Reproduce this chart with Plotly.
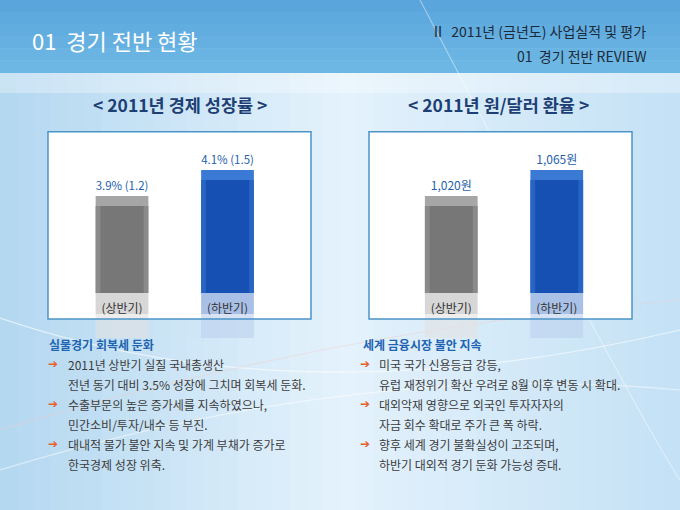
import plotly.graph_objects as go

W, H = 680, 510

# ---------------- data ----------------
page_title = "01  경기 전반 현황"
header_lines = ["Ⅱ  2011년 (금년도) 사업실적 및 평가", "01  경기 전반 REVIEW"]

periods = ["(상반기)", "(하반기)"]

growth_title = "< 2011년 경제 성장률 >"
growth_rate = [3.9, 4.1]
growth_paren = [1.2, 1.5]

fx_title = "< 2011년 원/달러 환율 >"
fx_rate = [1020, 1065]

left_heading = "실물경기 회복세 둔화"
left_bullets = [
    ["2011년 상반기 실질 국내총생산", "전년 동기 대비 3.5% 성장에 그치며 회복세 둔화."],
    ["수출부문의 높은 증가세를 지속하였으나,", "민간소비/투자/내수 등 부진."],
    ["대내적 물가 불안 지속 및 가계 부채가 증가로", "한국경제 성장 위축."],
]
right_heading = "세계 금융시장 불안 지속"
right_bullets = [
    ["미국 국가 신용등급 강등,", "유럽 재정위기 확산 우려로 8월 이후 변동 시 확대."],
    ["대외악재 영향으로 외국인 투자자자의", "자금 회수 확대로 주가 큰 폭 하락."],
    ["향후 세계 경기 불확실성이 고조되며,", "하반기 대외적 경기 둔화 가능성 증대."],
]

# ---------------- styles ----------------
FONT = "Noto Sans CJK KR"
top_facet = ["#a6a6a6", "#3a7ad4"]
side_facet = ["#8a8a8a", "#2764c4"]
face = ["#777777", "#1650b2"]
refl_near = ["#cdcdcd", "#93b1e0"]
refl_far = ["#e2e2e2", "#bcd0ee"]
label_blue = "#2461aa"


def px(x):
    return x / W


def py(y):
    return 1 - y / H


def mix(c1, c2, t):
    a = [int(c1[i:i + 2], 16) for i in (1, 3, 5)]
    b = [int(c2[i:i + 2], 16) for i in (1, 3, 5)]
    return "#%02x%02x%02x" % tuple(round(a[k] + (b[k] - a[k]) * t) for k in range(3))


fig = go.Figure()

# chart geometry (pixels -> paper)
left_dom = [px(69.25), px(280.25)]
right_dom = [px(398.5), px(609.5)]
bar_dom = [py(293), py(131.7)]
near_dom = [py(314), py(293)]
far_dom = [py(338), py(314)]

growth_range = [3.154, 4.395]
fx_range = [852.1, 1131.3]
growth_px = 130.0      # pixels per % point
fx_px = 0.5778         # pixels per won
bevel_px = 10

# reflections (subplots 1, 2, 5, 6)
for vals, xa, ya, cols, op in [
    (growth_rate, "x", "y", refl_near, 0.8), (fx_rate, "x2", "y2", refl_near, 0.8),
    (growth_rate, "x5", "y5", refl_far, 0.6), (fx_rate, "x6", "y6", refl_far, 0.6),
]:
    fig.add_trace(go.Bar(x=periods, y=vals, width=0.5, marker=dict(color=cols, line=dict(width=0)),
                         opacity=op, xaxis=xa, yaxis=ya, hoverinfo="skip", showlegend=False))

# bars with a simple bevel (subplots 3, 4)
for vals, xa, ya, scale, labels in [
    (growth_rate, "x3", "y3", growth_px, [f"{v}% ({p})" for v, p in zip(growth_rate, growth_paren)]),
    (fx_rate, "x4", "y4", fx_px, [f"{v:,}원" for v in fx_rate]),
]:
    lowered = [v - bevel_px / scale for v in vals]
    fig.add_trace(go.Bar(
        x=periods, y=vals, width=0.5, marker=dict(color=top_facet, line=dict(width=0)),
        text=labels, textposition="outside", cliponaxis=False,
        textfont=dict(family=FONT, size=12, color=label_blue),
        xaxis=xa, yaxis=ya, showlegend=False))
    fig.add_trace(go.Bar(x=periods, y=lowered, width=0.5, marker=dict(color=side_facet, line=dict(width=0)),
                         xaxis=xa, yaxis=ya, hoverinfo="skip", showlegend=False))
    fig.add_trace(go.Bar(x=periods, y=lowered, width=0.41, marker=dict(color=face, line=dict(width=0)),
                         xaxis=xa, yaxis=ya, hoverinfo="skip", showlegend=False))

hidden = dict(visible=False, fixedrange=True)
cat_axis = dict(type="category", showgrid=False, zeroline=False, showline=False, ticks="",
                tickfont=dict(family=FONT, size=12, color="#333333"), ticklabelstandoff=7,
                fixedrange=True)
hid_y = dict(showgrid=False, zeroline=False, showticklabels=False, fixedrange=True)

fig.update_layout(
    xaxis=dict(domain=left_dom, type="category", **hidden),
    yaxis=dict(domain=near_dom, range=[growth_range[0] + 21 / growth_px, growth_range[0]], **hidden),
    xaxis2=dict(domain=right_dom, type="category", **hidden),
    yaxis2=dict(domain=near_dom, range=[fx_range[0] + 21 / fx_px, fx_range[0]], **hidden),
    xaxis5=dict(domain=left_dom, type="category", **hidden),
    yaxis5=dict(domain=far_dom, range=[growth_range[0] + 45 / growth_px, growth_range[0]], **hidden),
    xaxis6=dict(domain=right_dom, type="category", **hidden),
    yaxis6=dict(domain=far_dom, range=[fx_range[0] + 45 / fx_px, fx_range[0]], **hidden),
    xaxis3=dict(domain=left_dom, anchor="y3", **cat_axis),
    yaxis3=dict(domain=bar_dom, range=growth_range, anchor="x3", **hid_y),
    xaxis4=dict(domain=right_dom, anchor="y4", **cat_axis),
    yaxis4=dict(domain=bar_dom, range=fx_range, anchor="x4", **hid_y),
)

# ---------------- decoration ----------------
shapes = []
N = 40
for i in range(N):
    t = (i + 0.5) / N
    if t < 0.5:
        c = mix("#b3d7f0", "#e4f2fc", t / 0.5)
    else:
        c = mix("#e4f2fc", "#c4e1f5", (t - 0.5) / 0.5)
    shapes.append(dict(type="rect", xref="paper", yref="paper", x0=i / N, x1=(i + 1) / N + 0.002,
                       y0=0, y1=py(73), fillcolor=c, line=dict(width=0), layer="below"))
shapes.append(dict(type="rect", xref="paper", yref="paper", x0=0, x1=1, y0=py(93), y1=py(73),
                   fillcolor="rgba(255,255,255,0.3)", line=dict(width=0), layer="below"))
for i in range(6):
    c = mix("#5aa6dc", "#6db7e5", i / 5)
    shapes.append(dict(type="rect", xref="paper", yref="paper", x0=0, x1=1,
                       y0=py(73 * (i + 1) / 6), y1=py(73 * i / 6) + 0.001,
                       fillcolor=c, line=dict(width=0), layer="below"))
for path, col in [
    ("M 0,%f Q %f,%f 1,%f" % (py(318), px(300), py(420), py(330)), "rgba(255,255,255,0.6)"),
    ("M 0,%f Q %f,%f 1,%f" % (py(430), px(330), py(330), py(300)), "rgba(240,205,205,0.4)"),
    ("M 0,%f Q %f,%f 1,%f" % (py(470), px(360), py(360), py(390)), "rgba(255,255,255,0.5)"),
    ("M %f,1 Q %f,%f 1,%f" % (px(420), px(640), py(420), py(480)), "rgba(255,255,255,0.4)"),
]:
    shapes.append(dict(type="path", xref="paper", yref="paper", path=path,
                       line=dict(color=col, width=1.2), layer="below"))
for x0, x1 in [(48, 311), (369, 632)]:
    shapes.append(dict(type="rect", xref="paper", yref="paper", x0=px(x0), x1=px(x1),
                       y0=py(319), y1=py(131.7), fillcolor="white", line=dict(width=0), layer="below"))
    shapes.append(dict(type="rect", xref="paper", yref="paper", x0=px(x0), x1=px(x1),
                       y0=py(319), y1=py(131.7), fillcolor="rgba(0,0,0,0)",
                       line=dict(color="#4a94c8", width=1.5), layer="above"))

ann = []
ann.append(dict(text=page_title, x=px(30), y=py(40), xref="paper", yref="paper", xanchor="left",
                yanchor="middle", showarrow=False, font=dict(family=FONT, size=22, color="white")))
for txt, yy in zip(header_lines, [31, 56]):
    ann.append(dict(text=txt, x=px(648), y=py(yy), xref="paper", yref="paper", xanchor="right",
                    yanchor="middle", showarrow=False, font=dict(family=FONT, size=14, color="#1d2a38")))
for txt, cx in [(growth_title, 180), (fx_title, 499)]:
    ann.append(dict(text="<b>%s</b>" % txt, x=px(cx), y=py(105), xref="paper", yref="paper",
                    xanchor="center", yanchor="middle", showarrow=False,
                    font=dict(family=FONT, size=17.5, color="#1d3f74")))


def add_column(heading, bullets, xh, xa, xt):
    ann.append(dict(text="<b>%s</b>" % heading, x=px(xh), y=py(344), xref="paper", yref="paper",
                    xanchor="left", yanchor="middle", showarrow=False,
                    font=dict(family=FONT, size=12, color="#2064b2")))
    y = 364
    for lines in bullets:
        ann.append(dict(text="➔", x=px(xa), y=py(y), xref="paper", yref="paper", xanchor="center",
                        yanchor="middle", showarrow=False,
                        font=dict(family="DejaVu Sans", size=12, color="#e6612c")))
        for ln in lines:
            ann.append(dict(text=ln, x=px(xt), y=py(y), xref="paper", yref="paper", xanchor="left",
                            yanchor="middle", showarrow=False,
                            font=dict(family=FONT, size=12, color="#3c3c3c")))
            y += 20


add_column(left_heading, left_bullets, 47, 53, 66)
add_column(right_heading, right_bullets, 361, 365, 377)

fig.update_layout(
    width=W, height=H, margin=dict(l=0, r=0, t=0, b=0),
    paper_bgcolor="#d6ebf8", plot_bgcolor="rgba(0,0,0,0)",
    barmode="overlay", shapes=shapes, annotations=ann, showlegend=False,
    font=dict(family=FONT),
)

fig.write_html("out.html", config={"displayModeBar": False},
               post_script="document.body.style.margin='0px';")
